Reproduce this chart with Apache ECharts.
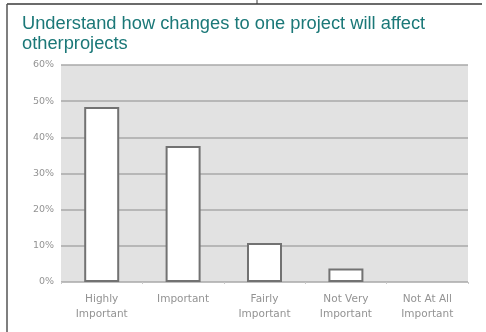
<!DOCTYPE html>
<html>
<head>
<meta charset="utf-8">
<script src="https://cdn.jsdelivr.net/npm/echarts@6/dist/echarts.min.js"></script>
<style>
  html, body { margin: 0; padding: 0; background: #fff; }
  #chart { width: 486px; height: 332px; }
</style>
</head>
<body>
<div id="chart"></div>
<script>
// Survey answers: share of respondents per importance rating
const categories = ['Highly\nImportant', 'Important', 'Fairly\nImportant', 'Not Very\nImportant', 'Not At All\nImportant'];
const shares = [0.484, 0.376, 0.108, 0.037, 0];
const yTicks = { min: 0, max: 0.6, interval: 0.1 };
const titleText = 'Understand how changes to one project will affect\notherprojects';

const chart = echarts.init(document.getElementById('chart'), null, { renderer: 'canvas' });

// an empty answer gets no outline, so a zero bar stays invisible
const barData = shares.map(v => ({
  value: v,
  itemStyle: v > 0 ? {} : { borderWidth: 0, opacity: 0 }
}));

chart.setOption({
  backgroundColor: '#ffffff',
  animation: false,
  title: {
    text: titleText,
    left: 22,
    top: 14,
    padding: 0,
    textStyle: {
      color: '#1b7878',
      fontFamily: 'Liberation Sans, Arial, sans-serif',
      fontSize: 18.3,
      fontWeight: 'normal',
      lineHeight: 20
    }
  },
  graphic: [
    { type: 'line', shape: { x1: 7, y1: 4, x2: 482, y2: 4 }, style: { stroke: '#3a3a3a', lineWidth: 1.5 } },
    { type: 'line', shape: { x1: 7, y1: 4, x2: 7, y2: 332 }, style: { stroke: '#555', lineWidth: 1.5 } },
    { type: 'line', shape: { x1: 257, y1: 0, x2: 257, y2: 4 }, style: { stroke: '#3a3a3a', lineWidth: 1 } }
  ],
  grid: {
    left: 61,
    right: 18,
    top: 65,
    bottom: 50,
    show: true,
    backgroundColor: '#e2e2e2',
    borderWidth: 0
  },
  xAxis: {
    type: 'category',
    data: categories,
    axisLine: { show: false },
    axisTick: { show: true, length: 2, lineStyle: { color: '#c8c8c8' } },
    axisLabel: {
      color: '#939393',
      fontFamily: 'DejaVu Sans, sans-serif',
      fontSize: 10.5,
      lineHeight: 15,
      margin: 10,
      interval: 0
    }
  },
  yAxis: {
    type: 'value',
    min: yTicks.min,
    max: yTicks.max,
    interval: yTicks.interval,
    axisLine: { show: false },
    axisTick: { show: false },
    splitLine: { lineStyle: { color: '#a9a9a9', width: 1.5 } },
    axisLabel: {
      color: '#939393',
      fontFamily: 'DejaVu Sans, sans-serif',
      fontSize: 9.5,
      margin: 7,
      formatter: v => Math.round(v * 100) + '%'
    }
  },
  series: [{
    type: 'bar',
    data: barData,
    barWidth: '43%',
    itemStyle: {
      color: '#ffffff',
      borderColor: '#727272',
      borderWidth: 2
    }
  }]
});
</script>
</body>
</html>
